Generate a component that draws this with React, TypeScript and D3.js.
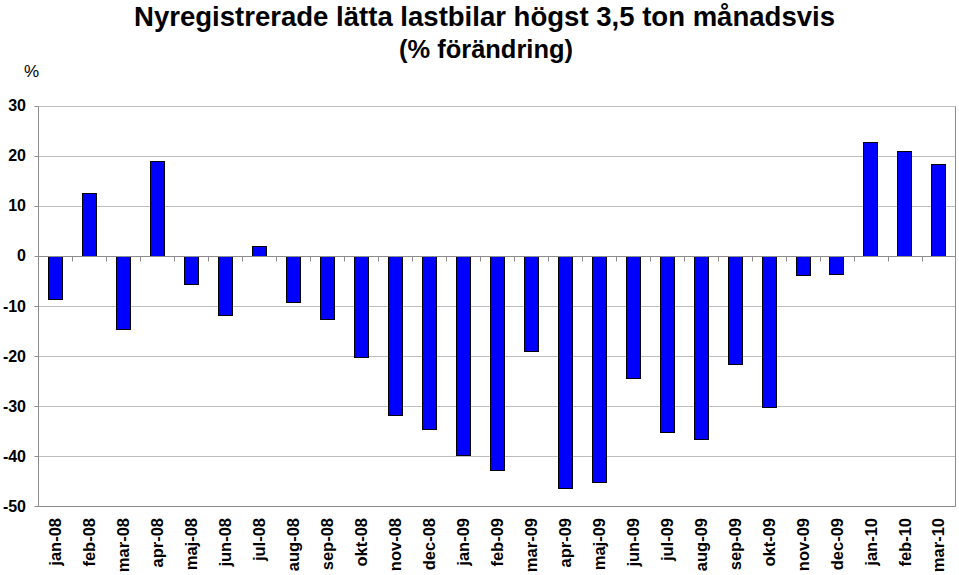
import React, { useEffect, useRef } from "react";
import * as d3 from "d3";

const months = [
  "jan-08", "feb-08", "mar-08", "apr-08", "maj-08", "jun-08", "jul-08", "aug-08", "sep-08",
  "okt-08", "nov-08", "dec-08", "jan-09", "feb-09", "mar-09", "apr-09", "maj-09", "jun-09",
  "jul-09", "aug-09", "sep-09", "okt-09", "nov-09", "dec-09", "jan-10", "feb-10", "mar-10",
];
const changes = [
  -8.6, 12.5, -14.6, 18.9, -5.6, -11.8, 2.0, -9.2, -12.7,
  -20.3, -31.8, -34.6, -39.9, -42.9, -19.0, -46.4, -45.3, -24.4,
  -35.3, -36.7, -21.6, -30.3, -3.9, -3.6, 22.7, 20.9, 18.4,
];
const yTicks = [30, 20, 10, 0, -10, -20, -30, -40, -50];

const App = () => {
  const svgRef = useRef<SVGSVGElement | null>(null);

  useEffect(() => {
    const width = 959;
    const height = 575;
    const margin = { top: 105.5, right: 3.5, bottom: 69, left: 38.5 };
    const font = "Liberation Sans, Arial, sans-serif";

    const svg = d3.select(svgRef.current);
    svg.selectAll("*").remove();

    const x = d3
      .scaleBand()
      .domain(months)
      .range([margin.left, width - margin.right])
      .paddingInner(0.58)
      .paddingOuter(0.29);

    const y = d3
      .scaleLinear()
      .domain([-50, 30])
      .range([height - margin.bottom, margin.top]);

    // gridlines
    svg
      .append("g")
      .selectAll("line")
      .data(yTicks)
      .join("line")
      .attr("x1", margin.left)
      .attr("x2", width - margin.right)
      .attr("y1", (d) => Math.round(y(d)) + 0.5)
      .attr("y2", (d) => Math.round(y(d)) + 0.5)
      .attr("stroke", "#bdbdbd")
      .attr("stroke-width", 1);

    // plot border (left, right, bottom)
    const x0 = margin.left;
    const x1 = width - margin.right;
    const yTop = Math.round(y(30)) + 0.5;
    const yBot = Math.round(y(-50)) + 0.5;
    svg
      .append("path")
      .attr("d", `M${x0},${yTop} L${x0},${yBot} L${x1},${yBot} L${x1},${yTop}`)
      .attr("fill", "none")
      .attr("stroke", "#8c8c8c");

    // left axis ticks + labels
    const left = svg.append("g");
    left
      .selectAll("line")
      .data(yTicks)
      .join("line")
      .attr("x1", x0 - 4)
      .attr("x2", x0)
      .attr("y1", (d) => Math.round(y(d)) + 0.5)
      .attr("y2", (d) => Math.round(y(d)) + 0.5)
      .attr("stroke", "#8c8c8c");
    left
      .selectAll("text")
      .data(yTicks)
      .join("text")
      .attr("x", 26)
      .attr("y", (d) => y(d))
      .attr("dy", "0.36em")
      .attr("text-anchor", "end")
      .style("font-family", font)
      .style("font-size", "16px")
      .style("font-weight", "bold")
      .text((d) => String(d));

    // bars
    svg
      .append("g")
      .selectAll("rect")
      .data(changes)
      .join("rect")
      .attr("x", (_, i) => Math.round(x(months[i])!) + 0.5)
      .attr("y", (d) => Math.round(y(Math.max(0, d))) + 0.5)
      .attr("width", Math.round(x.bandwidth()))
      .attr("height", (d) => Math.abs(Math.round(y(d)) - Math.round(y(0))))
      .attr("fill", "#0000ff")
      .attr("stroke", "#000")
      .attr("stroke-width", 1);

    // zero axis with category ticks
    const y0 = Math.round(y(0)) + 0.5;
    const step = x.step();
    const zero = svg.append("g");
    zero
      .append("line")
      .attr("x1", x0)
      .attr("x2", x1)
      .attr("y1", y0)
      .attr("y2", y0)
      .attr("stroke", "#8c8c8c");
    zero
      .selectAll("line.tick")
      .data(d3.range(1, months.length))
      .join("line")
      .attr("class", "tick")
      .attr("x1", (i) => Math.round(x0 + i * step) + 0.5)
      .attr("x2", (i) => Math.round(x0 + i * step) + 0.5)
      .attr("y1", y0)
      .attr("y2", y0 + 5)
      .attr("stroke", "#8c8c8c");

    // month labels (rotated)
    svg
      .append("g")
      .selectAll("text")
      .data(months)
      .join("text")
      .attr(
        "transform",
        (d) => `translate(${x(d)! + x.bandwidth() / 2},${height - margin.bottom + 12}) rotate(-90)`
      )
      .attr("dy", "0.36em")
      .attr("text-anchor", "end")
      .style("font-family", font)
      .style("font-size", "16.5px")
      .style("font-weight", "bold")
      .text((d) => d);

    // titles
    svg
      .append("text")
      .attr("x", 134)
      .attr("y", 26)
      .attr("textLength", 701)
      .attr("lengthAdjust", "spacingAndGlyphs")
      .style("font-family", font)
      .style("font-size", "28px")
      .style("font-weight", "bold")
      .text("Nyregistrerade lätta lastbilar högst 3,5 ton månadsvis");

    svg
      .append("text")
      .attr("x", 399)
      .attr("y", 58)
      .attr("textLength", 174)
      .attr("lengthAdjust", "spacingAndGlyphs")
      .style("font-family", font)
      .style("font-size", "25px")
      .style("font-weight", "bold")
      .text("(% förändring)");

    svg
      .append("text")
      .attr("x", 24)
      .attr("y", 77)
      .style("font-family", font)
      .style("font-size", "17px")
      .text("%");
  }, []);

  return (
    <svg
      ref={svgRef}
      width={959}
      height={575}
      style={{ position: "absolute", left: 0, top: 0, background: "#fff" }}
    />
  );
};

export default App;
